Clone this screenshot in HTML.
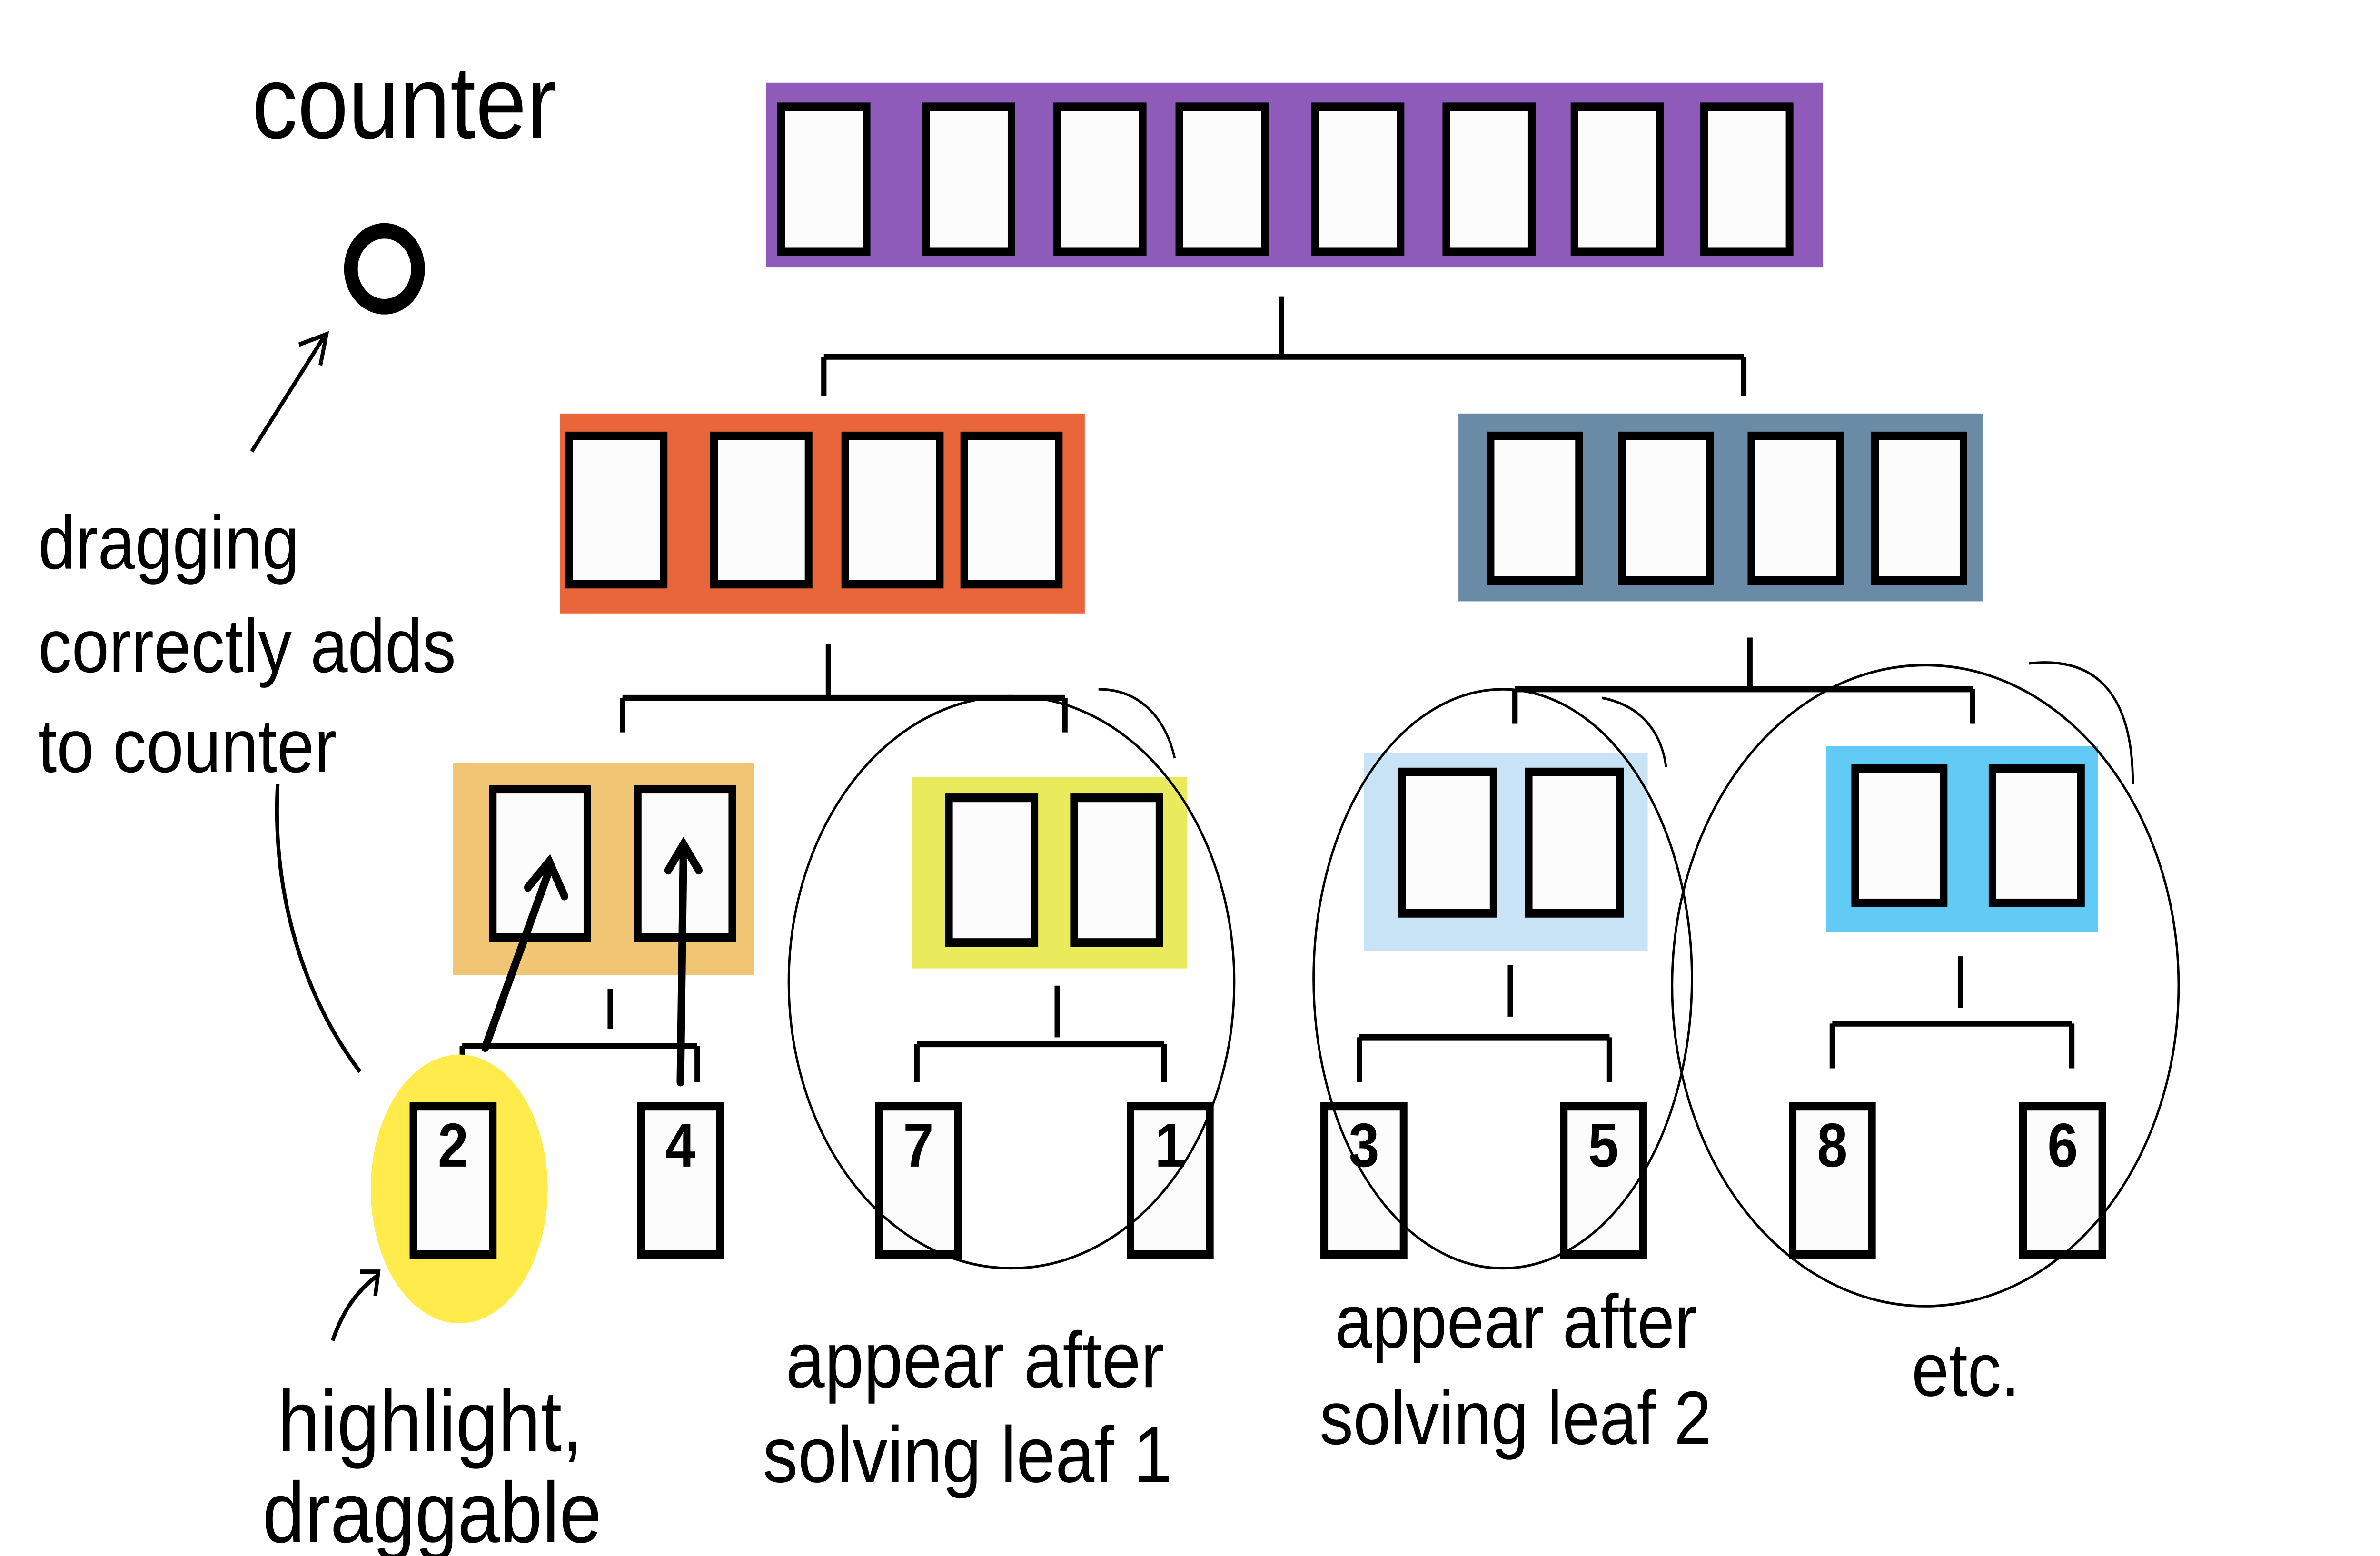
<!DOCTYPE html>
<html><head><meta charset="utf-8"><style>
html,body{margin:0;padding:0;background:#fff;overflow:hidden;width:100%;height:100%;}
svg{display:block;width:100vw;height:100vh;}
text{font-family:"Liberation Sans",sans-serif;fill:#000;}
</style></head><body>
<svg viewBox="0 0 1560 903" preserveAspectRatio="none" xmlns="http://www.w3.org/2000/svg">
<rect width="1560" height="903" fill="#fff"/>
<text x="165" y="80" font-size="60">counter</text>
<circle cx="252" cy="156" r="22" fill="none" stroke="#000" stroke-width="9"/>
<path d="M165 262 L212 196 M196 200 L214 194 L210 212" fill="none" stroke="#000" stroke-width="2.5"/>
<text font-size="44"><tspan x="25" y="330">dragging</tspan><tspan x="25" y="390">correctly adds</tspan><tspan x="25" y="448">to counter</tspan></text>
<path d="M182 455 C178 520 200 580 236 622" fill="none" stroke="#000" stroke-width="2.5"/>

<rect x="502" y="48" width="693" height="107" fill="#8e5bbb"/>
<g id="cards0"></g>
<g fill="none" stroke="#000" stroke-width="3.5">
<path d="M840 172 V207 M540 207 H1143 M540 207 V230 M1143 207 V230"/>
<path d="M543 374 V405 M408 405 H698 M408 405 V425 M698 405 V425"/>
<path d="M1147 370 V400 M993 400 H1293 M993 400 V420 M1293 400 V420"/>
<path d="M400 574 V597 M303 607 H457 M303 607 V628 M457 607 V628"/>
<path d="M693 572 V602 M601 606 H763 M601 606 V628 M763 606 V628"/>
<path d="M990 560 V590 M891 602 H1055 M891 602 V628 M1055 602 V628"/>
<path d="M1285 555 V585 M1201 594 H1358 M1201 594 V620 M1358 594 V620"/>
</g>
<rect x="367" y="240" width="344" height="116" fill="#e8663a"/>
<rect x="956" y="240" width="344" height="109" fill="#6a8ba6"/>
<rect x="297" y="443" width="197" height="123" fill="#f0c674"/>
<rect x="598" y="451" width="180" height="111" fill="#e9ea5c"/>
<rect x="894" y="437" width="186" height="115" fill="#c9e3f6"/>
<rect x="1197" y="433" width="178" height="108" fill="#62cbf5"/>
<ellipse cx="301" cy="690" rx="58" ry="78" fill="#ffeb4c"/>
<g id="cards"></g>
<g fill="none" stroke="#000" stroke-width="1.5">
<ellipse cx="663" cy="570" rx="146" ry="166"/>
<ellipse cx="985" cy="568" rx="124" ry="168"/>
<ellipse cx="1262" cy="572" rx="166" ry="186"/>
<path d="M720 400 C750 400 765 420 770 440 M1050 405 C1080 410 1090 430 1092 445 M1330 385 C1380 380 1398 410 1398 455"/>
</g>
<g stroke="#000" stroke-width="5" fill="none" stroke-linecap="round">
<path d="M318 608 L360 505 M346 515 L360 500 L370 520"/>
<path d="M446 628 L448 492 M438 505 L448 490 L458 505"/>
</g>
<path d="M218 778 C225 760 235 748 248 740 M236 738 L248 738 L246 752" fill="none" stroke="#000" stroke-width="2.5"/>
<text font-size="50"><tspan x="182" y="842">highlight,</tspan><tspan x="172" y="895">draggable</tspan></text>
<text font-size="46"><tspan x="515" y="805">appear after</tspan><tspan x="500" y="860">solving  leaf 1</tspan></text>
<text font-size="44"><tspan x="875" y="782">appear after</tspan><tspan x="865" y="838">solving leaf 2</tspan></text>
<text x="1253" y="810" font-size="44">etc.</text>
</svg>
<script>
const ns='http://www.w3.org/2000/svg';
function card(g,x,y,w,h,label){
  const r=document.createElementNS(ns,'rect');
  
  
  r.setAttribute('x',x);r.setAttribute('y',y);r.setAttribute('width',w);r.setAttribute('height',h);
  r.setAttribute('fill','#fcfcfc');r.setAttribute('stroke','#000');r.setAttribute('stroke-width','5');
  g.appendChild(r);
  if(label){
    const t=document.createElementNS(ns,'text');
    
    
    t.setAttribute('x',x+w/2);t.setAttribute('y',y+35);t.setAttribute('text-anchor','middle');
    t.setAttribute('font-size','36');t.setAttribute('font-weight','bold');
    t.textContent=label;g.appendChild(t);
  }
}
const g0=document.getElementById('cards0');
const rootX=[512,607,693,773,862,948,1032,1117];
rootX.forEach(x=>card(g0,x,62,56,84));
const g=document.getElementById('cards');
[373,468,554,632].forEach(x=>card(g,x,253,62,86));
[977,1063,1148,1229].forEach(x=>card(g,x,253,58,84));
[323,418].forEach(x=>card(g,x,458,62,86));
[622,704].forEach(x=>card(g,x,463,56,84));
[919,1002].forEach(x=>card(g,x,448,60,82));
[1216,1306].forEach(x=>card(g,x,446,58,78));
const leafX=[271,420,576,741,868,1025,1175,1326];
const leafLabels=['2','4','7','1','3','5','8','6'];
leafX.forEach((x,i)=>card(g,x,642,52,86,leafLabels[i]));
</script>
</body></html>
